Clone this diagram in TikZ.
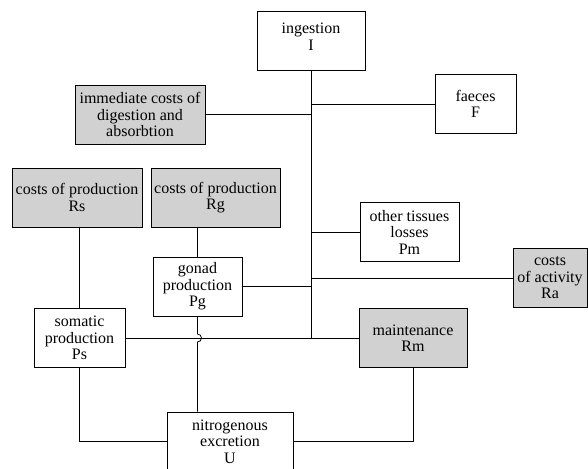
\documentclass[tikz,border=0pt]{standalone}
\usepackage{fontspec}
\setmainfont{Liberation Serif}
\begin{document}
\begin{tikzpicture}[x=1pt, y=-1pt, line width=0.8pt,
    blocco/.style={draw, align=center, inner sep=1pt, minimum height=59pt,
                   font=\fontsize{16}{16.5}\selectfont},
    costo/.style={blocco, fill=black!18}]
        \useasboundingbox (0,0) rectangle (588,468);

        % Blocchi principali
        \node[blocco, minimum width=108pt] (ing) at (311,41) {ingestion\\I\\[-8pt]};
        \node[blocco, minimum width=81pt] (fae) at (475.5,104) {faeces\\F};
        \node[costo, minimum width=130pt] (imm) at (140,114.5) {immediate costs of\\digestion and\\absorbtion};
        \node[costo, minimum width=130pt] (rs) at (77,197.5) {costs of production\\Rs};
        \node[costo, minimum width=129pt] (rg) at (215.5,197.5) {costs of production\\Rg};
        \node[blocco, minimum width=99pt] (pm) at (409.5,232) {other tissues\\losses\\Pm};
        \node[costo, minimum width=74pt] (ra) at (550,278) {costs\\of activity\\Ra};
        \node[blocco, minimum width=89pt] (pg) at (197.5,286.5) {gonad\\production\\Pg};
        \node[blocco, minimum width=91pt] (ps) at (79.5,338) {somatic\\production\\Ps};
        \node[costo, minimum width=108pt] (rm) at (413,338) {maintenance\\Rm};
        \node[blocco, minimum width=126pt] (u) at (230,441.5) {nitrogenous\\excretion\\U};

        % Tronco verticale e rami
        \draw (ing.south) -- (ing.south |- ps.east);
        \draw (imm.east) -- (imm.east -| ing.south);
        \draw (fae.west) -- (fae.west -| ing.south);
        \draw (pm.west) -- (pm.west -| ing.south);
        \draw (ra.west) -- (ra.west -| ing.south);
        \draw (pg.east) -- (pg.east -| ing.south);
        \draw (ps.east) -- (ps.east -| rm.west);

        % Costi di produzione verso le produzioni
        \draw (ps.north |- rs.south) -- (ps.north);
        \draw (pg.north |- rg.south) -- (pg.north);

        % Salto sopra la linea orizzontale
        \coordinate (salto) at (pg.south |- ps.east);
        \draw (pg.south) -- ([yshift=4pt]salto) arc[start angle=-90, end angle=90, radius=4]
            -- (pg.south |- u.north);

        % Escrezione azotata
        \draw (ps.south) |- (u.west);
        \draw (rm.south) |- (u.east);
\end{tikzpicture}
\end{document}
